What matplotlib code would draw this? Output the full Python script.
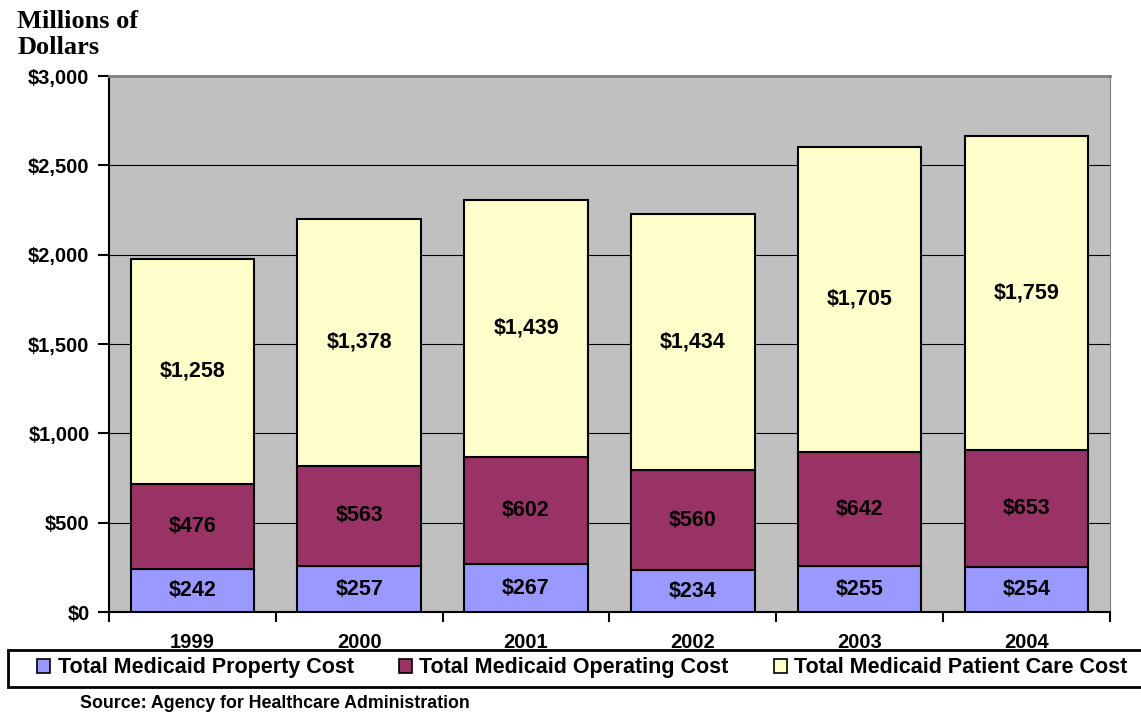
import matplotlib.pyplot as plt
import matplotlib.patches as mpatches
import numpy as np

years = ['1999', '2000', '2001', '2002', '2003', '2004']
property_cost = [242, 257, 267, 234, 255, 254]
operating_cost = [476, 563, 602, 560, 642, 653]
patient_cost = [1258, 1378, 1439, 1434, 1705, 1759]
series_names = ['Total Medicaid Property Cost', 'Total Medicaid Operating Cost',
                'Total Medicaid Patient Care Cost']
colors = ['#9999FF', '#993366', '#FFFFCC']

plt.rcParams['font.family'] = 'Liberation Sans'
plt.rcParams['font.weight'] = 'bold'

fig = plt.figure(figsize=(11.41, 7.15), dpi=100)
ax = fig.add_axes([0.0955, 0.144, 0.8773, 0.7497])
ax.set_facecolor('#C0C0C0')

x = np.arange(len(years))
bottom = np.zeros(len(years))
for vals, c in zip([property_cost, operating_cost, patient_cost], colors):
    ax.bar(x, vals, 0.74, bottom=bottom, color=c, edgecolor='black', linewidth=1.5, zorder=3)
    for xi, b, v in zip(x, bottom, vals):
        ax.text(xi, b + v / 2, '${:,}'.format(v), ha='center', va='center',
                fontsize=15.5, fontweight='bold', zorder=4)
    bottom = bottom + np.array(vals)

ax.set_xlim(-0.5, len(years) - 0.5)
ax.set_ylim(0, 3000)
ax.set_yticks(np.arange(0, 3001, 500))
ax.set_yticklabels(['${:,}'.format(v) for v in range(0, 3001, 500)], fontsize=14.5, fontweight='bold')
ax.yaxis.grid(True, color='black', linewidth=0.8, zorder=0)

ax.set_xticks(x)
ax.set_xticklabels(years, fontsize=14.5, fontweight='bold')
ax.tick_params(axis='x', length=0, pad=15)
ax.set_xticks(np.arange(-0.5, len(years)), minor=True)
ax.tick_params(axis='x', which='minor', length=7, width=1.5, direction='out')
ax.tick_params(axis='y', length=8, width=1.5, direction='out', pad=6)

ax.spines['left'].set_linewidth(1.5)
ax.spines['bottom'].set_linewidth(1.5)
ax.spines['top'].set_color('#808080')
ax.spines['top'].set_linewidth(2)
ax.spines['right'].set_color('#808080')

fig.text(0.015, 0.986, 'Millions of\nDollars', family='Liberation Serif', fontsize=19,
         fontweight='bold', ha='left', va='top', linespacing=1.15)

# legend box
fig.patches.append(mpatches.Rectangle((8 / 1141, 0.039), 1.0, 0.052, transform=fig.transFigure,
                                      facecolor='white', edgecolor='black', linewidth=2, zorder=5))
handles = [mpatches.Patch(facecolor=c, edgecolor='black', linewidth=1.2) for c in colors]
leg = fig.legend(handles, series_names, loc='center left', bbox_to_anchor=(0.0325, 0.066),
                 ncol=3, frameon=False, handlelength=0.6, handleheight=0.6,
                 handletextpad=0.35, columnspacing=2.1, borderaxespad=0, borderpad=0,
                 prop={'weight': 'bold', 'size': 15.5})
leg.set_zorder(6)

fig.text(80 / 1141, 1 - 703 / 715, 'Source: Agency for Healthcare Administration',
         fontsize=12.8, fontweight='bold', ha='left', va='center')

fig.savefig('out.png', dpi=100)
